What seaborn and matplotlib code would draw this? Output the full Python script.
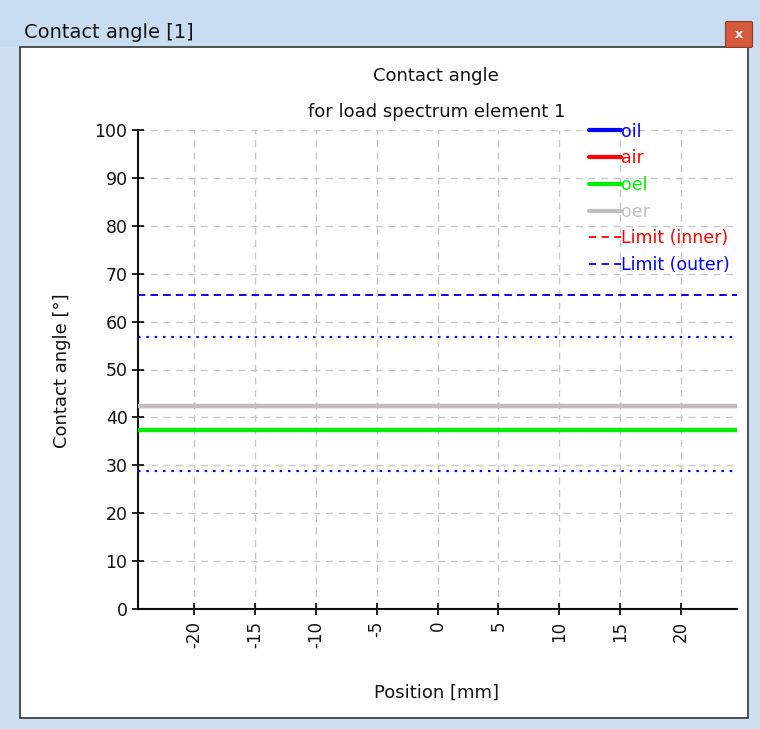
"""
Contact angle chart for load spectrum element 1.
"""

import numpy as np
import pandas as pd
import matplotlib.pyplot as plt
from matplotlib.patches import Rectangle, FancyBboxPatch
import seaborn as sns

# Data
position = [-24.6, 24.6]  # mm, shaft range
series_names = ["oil", "air", "oel", "oer"]
series_values = [37.4, 42.4, 37.4, 42.4]  # deg, constant along position
series_colors = ["#0000ff", "#ff0000", "#00ee00", "#c0c0c0"]
limit_inner = 65.5
limit_outer = 65.5
outer_band = [56.8, 28.8]
x_ticks = [-20, -15, -10, -5, 0, 5, 10, 15, 20]
y_ticks = list(range(0, 101, 10))

sns.set_style("white")
plt.rcParams["font.family"] = ["DejaVu Sans"]
plt.rcParams["font.size"] = 12
plt.rcParams["axes.unicode_minus"] = False
plt.rcParams["text.color"] = "#111111"
plt.rcParams["xtick.color"] = "#111111"
plt.rcParams["ytick.color"] = "#111111"

fig = plt.figure(figsize=(7.6, 7.29), dpi=100)
fig.patch.set_facecolor("#cfe0f3")

# window chrome
fig.patches.append(Rectangle((0, 1 - 47 / 729), 1, 47 / 729, transform=fig.transFigure,
                             facecolor="#c9ddf2", edgecolor="none", zorder=-2))
fig.patches.append(Rectangle((20 / 760, 1 - 718 / 729), 728 / 760, 671 / 729,
                             transform=fig.transFigure, facecolor="white",
                             edgecolor="#333333", lw=1.2, zorder=-2))
fig.patches.append(FancyBboxPatch((727 / 760, 1 - 46 / 729), 24 / 760, 23 / 729,
                                  boxstyle="round,pad=0.002", transform=fig.transFigure,
                                  facecolor="#d45a3c", edgecolor="#8a3b2a", lw=0.8, zorder=-1))
fig.text(739 / 760, 1 - 34 / 729, "x", color="white", fontsize=9, fontweight="bold",
         ha="center", va="center")
fig.text(24 / 760, 1 - 33 / 729, "Contact angle [1]", fontsize=14, ha="left", va="center")

ax = fig.add_axes([138 / 760, 1 - 609 / 729, 599 / 760, 479 / 729])
ax.set_facecolor("white")

for name, val, col in zip(series_names, series_values, series_colors):
    df = pd.DataFrame({"x": position, "y": [val] * len(position)})
    sns.lineplot(data=df, x="x", y="y", color=col, lw=3, ax=ax, label=name, zorder=3)

df_in = pd.DataFrame({"x": position, "y": [limit_inner] * len(position)})
sns.lineplot(data=df_in, x="x", y="y", color="#ff0000", lw=1.3, ax=ax,
             label="Limit (inner)", zorder=3)
ax.lines[-1].set_dashes((4, 3))
df_out = pd.DataFrame({"x": position, "y": [limit_outer] * len(position)})
sns.lineplot(data=df_out, x="x", y="y", color="#0000ff", lw=1.3, ax=ax,
             label="Limit (outer)", zorder=3)
ax.lines[-1].set_dashes((4, 3))
for val in outer_band:
    df_b = pd.DataFrame({"x": position, "y": [val] * len(position)})
    sns.lineplot(data=df_b, x="x", y="y", color="#0000ff", lw=1.5, ax=ax, zorder=3)
    ax.lines[-1].set_dashes((1.2, 2.8))

ax.set_xlim(-24.6, 24.6)
ax.set_ylim(0, 100)
ax.set_xticks(x_ticks)
ax.set_yticks(y_ticks)
ax.tick_params(axis="x", bottom=True, rotation=90, direction="inout", length=9,
               width=1.3, pad=4, labelsize=12)
ax.tick_params(axis="y", left=True, direction="inout", length=9, width=1.3, pad=3,
               labelsize=12.5)
ax.grid(True, color="#c8c8c8", lw=1, dashes=(5, 4))
ax.set_axisbelow(True)
for side in ["top", "right"]:
    ax.spines[side].set_visible(False)
for side in ["left", "bottom"]:
    ax.spines[side].set_color("#111111")
    ax.spines[side].set_linewidth(1.5)

ax.set_xlabel("")
ax.set_ylabel("")
fig.text(437 / 760, 1 - 693 / 729, "Position [mm]", fontsize=13, ha="center", va="center")
fig.text(62 / 760, 1 - 371 / 729, "Contact angle [°]", fontsize=13, rotation=90,
         ha="center", va="center")
fig.text(436 / 760, 1 - 76 / 729, "Contact angle", fontsize=13, ha="center", va="center")
fig.text(437 / 760, 1 - 112 / 729, "for load spectrum element 1", fontsize=13,
         ha="center", va="center")

leg = ax.legend(loc="upper right", bbox_to_anchor=(1.0, 1.03), frameon=False,
                handlelength=1.85, handletextpad=0.0, labelspacing=0.5,
                labelcolor="linecolor", fontsize=12.5, borderaxespad=0)

fig.savefig("out.png", dpi=100)
